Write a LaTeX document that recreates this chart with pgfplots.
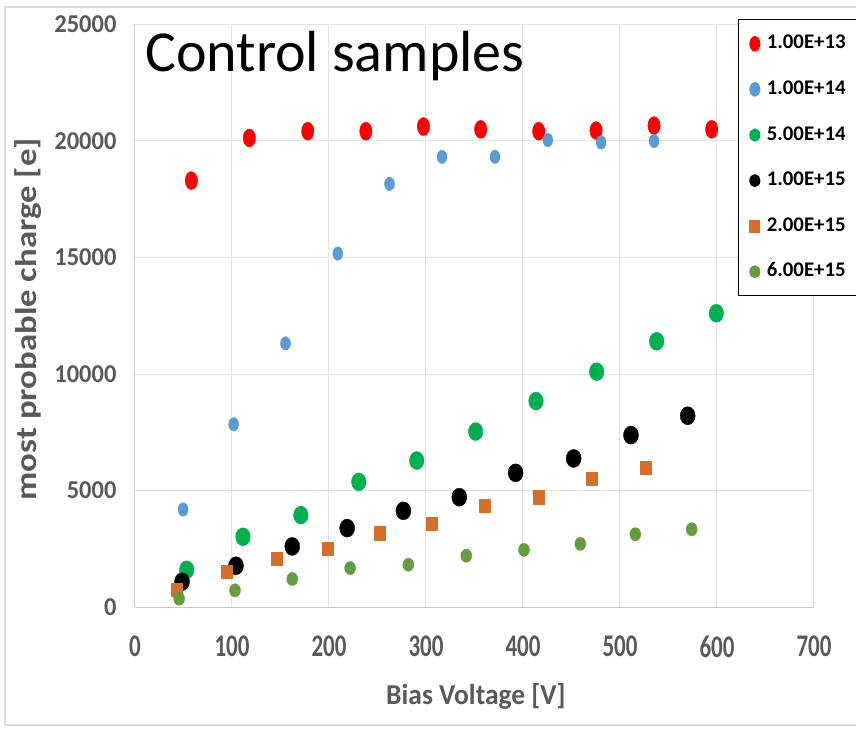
\documentclass[border=0pt]{standalone}
\usepackage{pgfplots}
\pgfplotsset{compat=1.18}
\usepackage{fontspec}
\setmainfont{Carlito}
\usepackage{graphicx}
\definecolor{cred}{RGB}{255,0,0}
\definecolor{cblue}{RGB}{91,155,213}
\definecolor{cgreen}{RGB}{0,176,80}
\definecolor{corange}{RGB}{212,110,44}
\definecolor{colive}{RGB}{101,156,62}
\definecolor{tgray}{RGB}{89,89,89}
\begin{document}
\begin{tikzpicture}
\useasboundingbox (-135pt,-121pt) rectangle (721pt,607pt);
\begin{axis}[
  at={(0pt,0pt)}, anchor=south west,
  scale only axis, width=679pt, height=582.5pt,
  xmin=0, xmax=700, ymin=0, ymax=25000,
  xtick={0,100,...,700}, ytick={0,5000,...,25000},
  scaled y ticks=false, scaled x ticks=false,
  /pgf/number format/assume math mode=true,
  /pgf/number format/1000 sep={},
  grid=major, grid style={draw=gray!22, line width=1pt},
  axis lines*=left, axis line style={draw=gray!45, line width=1pt, -},
  major tick length=0pt,
  xticklabel style={font=\fontsize{23}{26}\selectfont\bfseries, text=tgray, yshift=-25pt},
  yticklabel style={font=\fontsize{24.5}{28}\selectfont\bfseries, text=tgray, xshift=-15pt},
  xticklabel={\scalebox{1}[1.37]{\pgfmathprintnumber{\tick}}},
  yticklabel={\scalebox{1}[1.05]{\pgfmathprintnumber{\tick}}},
  xlabel={\scalebox{1}[1.05]{Bias Voltage [V]}},
  ylabel={\scalebox{1.16}[1]{most probable charge [e]}},
  x label style={font=\fontsize{27.5}{30}\selectfont\bfseries, text=tgray, at={(axis description cs:0.502,-0.1528)}, anchor=center},
  y label style={font=\fontsize{30}{32}\selectfont\bfseries, text=tgray, at={(axis description cs:-0.1568,0.494)}, anchor=center},
  legend style={at={(rel axis cs:0.888,1.0089)}, anchor=north west, draw=black, line width=1pt, fill=white,
    font=\fontsize{20.8}{24}\selectfont\bfseries, inner xsep=10.4pt, inner ysep=13pt, row sep=23.6pt, column sep=5pt,
    nodes={inner xsep=1pt, inner ysep=2pt, text height=14pt, text depth=4pt}},
  legend cell align=left,
  legend image code/.code={\draw[#1, only marks, mark size=5pt] plot coordinates {(0pt,0pt)};\pgfresetboundingbox\path[draw=none, fill=none] (-6pt,-6pt) rectangle (6pt,6pt);},
]
\addplot[only marks, mark=*, mark size=6.2pt, mark options={draw=cred, fill=cred, yscale=1.45}] coordinates {
(58.1,18300) (117.9,20130) (178.1,20420) (238,20420) (297.4,20620) (356.4,20500) (416.2,20420) (475.3,20450) (535.1,20660) (594.5,20500)};
\addlegendentry{1.00E+13}
\addplot[only marks, mark=*, mark size=5pt, mark options={draw=cblue, fill=cblue, yscale=1.35}] coordinates {
(49.6,4186) (101.7,7843) (155.2,11314) (209.1,15170) (262.4,18160) (316.5,19320) (371.1,19320) (425.6,20040) (480.5,19940) (535.1,20000)};
\addlegendentry{1.00E+14}
\addplot[only marks, mark=*, mark size=7.3pt, mark options={draw=cgreen, fill=cgreen, yscale=1.23}] coordinates {
(53.3,1600) (111.3,3014) (171,3943) (230.7,5371) (290.4,6286) (351.2,7530) (413.4,8840) (475.9,10100) (537.8,11404) (599.3,12607)};
\addlegendentry{5.00E+14}
\addplot[only marks, mark=*, mark size=7.5pt, mark options={draw=black, fill=black, yscale=1.2}] coordinates {
(48.5,1086) (104.1,1771) (162.1,2600) (218.7,3386) (276.7,4129) (334.3,4714) (392.4,5759) (452.2,6375) (511.3,7378) (569.8,8209)};
\addlegendentry{1.00E+15}
\addplot[only marks, mark=square*, mark size=5.5pt, mark options={draw=corange, fill=corange, yscale=1.2}] coordinates {
(43.4,729) (94.2,1514) (145.6,2086) (198.5,2500) (252.3,3171) (305.8,3586) (360.5,4355) (416.2,4713) (471.1,5501) (526.1,5974)};
\addlegendentry{2.00E+15}
\addplot[only marks, mark=*, mark size=5.5pt, mark options={draw=colive, fill=colive, yscale=1.2}] coordinates {
(45.5,357) (103.1,714) (162.1,1200) (221.8,1671) (281.8,1814) (341.5,2200) (401,2450) (459.1,2708) (515.8,3123) (573.9,3338)};
\addlegendentry{6.00E+15}
\node[anchor=base west, inner sep=0pt, font=\fontsize{58}{60}\selectfont, text=black] at (rel axis cs:0.0147,0.9185) {Control samples};
\end{axis}
\draw[gray!30, line width=2pt] (-130pt,-118pt) rectangle (725pt,600pt);
\end{tikzpicture}
\end{document}
